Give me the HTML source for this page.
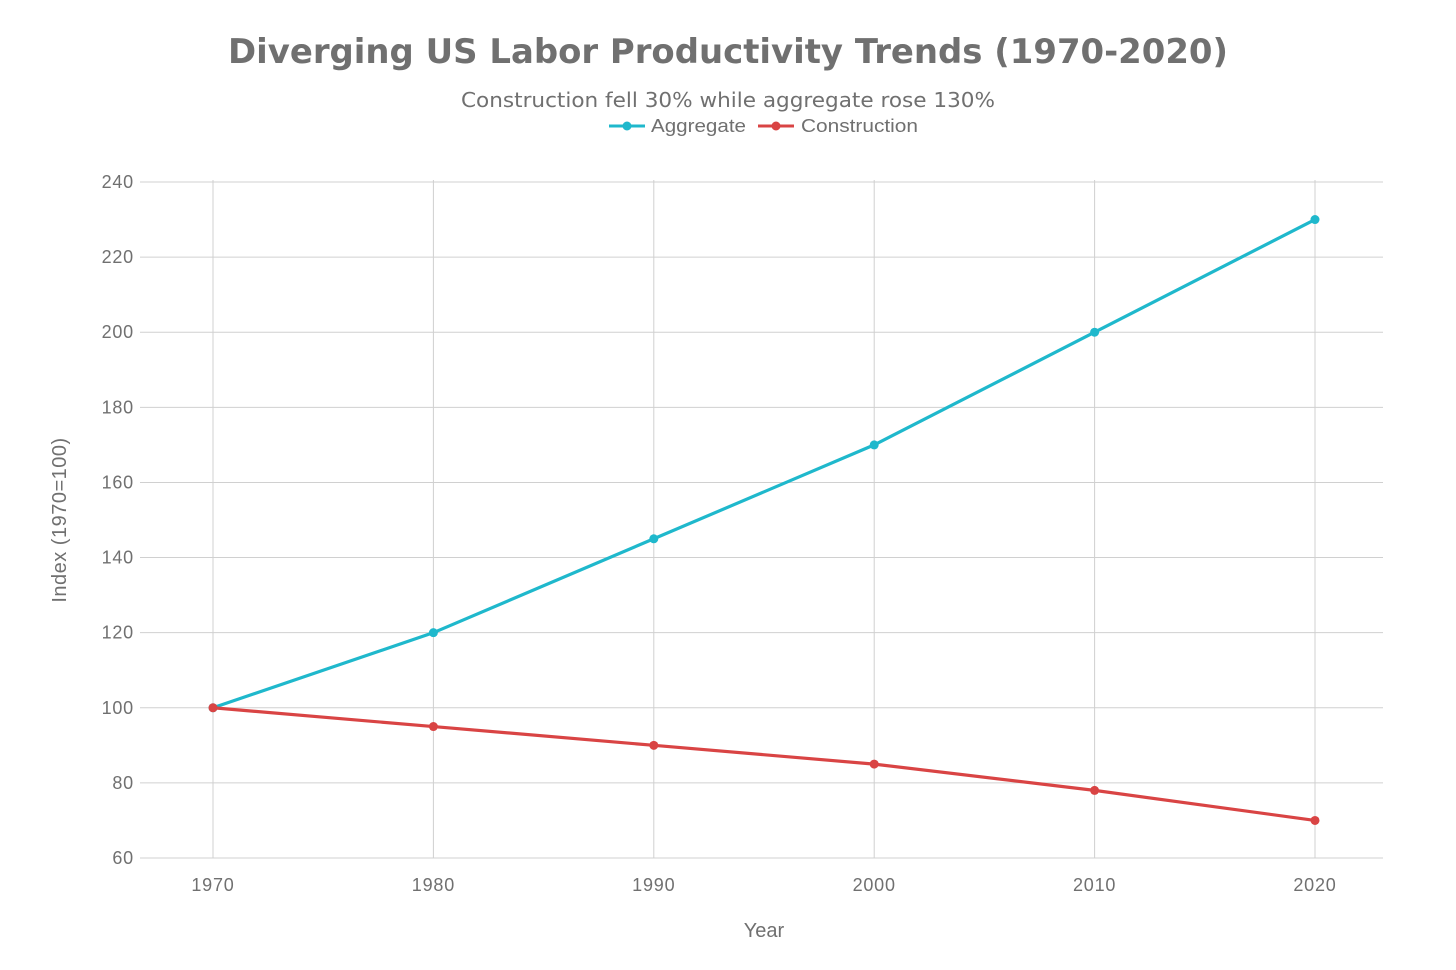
<!DOCTYPE html>
<html><head><meta charset="utf-8"><style>
body{margin:0;background:#fff;}
svg{display:block;font-family:"Liberation Sans",sans-serif;}
</style></head><body>
<svg id="chart" width="1456" height="970">
<text x="728" y="63" text-anchor="middle" font-size="34" font-weight="bold" fill="#707070" style="font-family:'DejaVu Sans',sans-serif" textLength="1000" lengthAdjust="spacingAndGlyphs">Diverging US Labor Productivity Trends (1970-2020)</text>
<text x="728" y="107" text-anchor="middle" font-size="20" fill="#707070" style="font-family:'DejaVu Sans',sans-serif" textLength="534" lengthAdjust="spacingAndGlyphs">Construction fell 30% while aggregate rose 130%</text>
<g>
<g>
<line x1="609" y1="126" x2="645" y2="126" stroke="#1fb8cc" stroke-width="3"/><circle cx="627" cy="126" r="4.5" fill="#1fb8cc"/>
<text x="651" y="132" font-size="18" fill="#707070" textLength="95" lengthAdjust="spacingAndGlyphs">Aggregate</text></g>
<g>
<line x1="758" y1="126" x2="794" y2="126" stroke="#d94444" stroke-width="3"/><circle cx="776" cy="126" r="4.5" fill="#d94444"/>
<text x="801" y="132" font-size="18" fill="#707070" textLength="117" lengthAdjust="spacingAndGlyphs">Construction</text></g>
</g>
<g id="grid"></g><g id="axes"></g><g id="series"></g>
<text x="764" y="937" text-anchor="middle" font-size="20" fill="#707070">Year</text>
<text transform="translate(66,520) rotate(-90)" text-anchor="middle" font-size="20" fill="#707070" letter-spacing="0.5">Index (1970=100)</text>
</svg>
<script>
const years=[1970,1980,1990,2000,2010,2020];
const aggregate=[100,120,145,170,200,230];
const construction=[100,95,90,85,78,70];
const yTicks=[60,80,100,120,140,160,180,200,220,240];
const xTicks=[1970,1980,1990,2000,2010,2020];
const L=140,R=1383,T=182,B=858;
const x=v=>213+(v-1970)*(1315-213)/50;
const y=v=>B-(v-60)*(B-T)/180;
const NS="http://www.w3.org/2000/svg";
function mk(tag,attrs,parent){const e=document.createElementNS(NS,tag);for(const k in attrs)e.setAttribute(k,attrs[k]);parent.appendChild(e);return e;}
const grid=document.getElementById('grid'),axes=document.getElementById('axes'),series=document.getElementById('series');
yTicks.forEach(t=>{
 const l=mk('line',{x1:L,x2:R,y1:y(t),y2:y(t),stroke:'#d0d0d0','stroke-width':1},grid);
 
 
 const tx=mk('text',{x:L-6,y:y(t)+6,'text-anchor':'end','font-size':18,'letter-spacing':0.8,fill:'#707070'},axes);
 tx.textContent=t;
 
 
});
xTicks.forEach(t=>{
 const l=mk('line',{x1:x(t),x2:x(t),y1:T-2,y2:B,stroke:'#d0d0d0','stroke-width':1},grid);
 
 
 const tx=mk('text',{x:x(t),y:891,'text-anchor':'middle','font-size':18,'letter-spacing':0.8,fill:'#707070'},axes);
 tx.textContent=t;
 
 
});
function draw(vals,color,name){
 const p=mk('polyline',{points:years.map((yr,i)=>x(yr)+','+y(vals[i])).join(' '),fill:'none',stroke:color,'stroke-width':3.2},series);
 
 
 years.forEach((yr,i)=>{
  const c=mk('circle',{cx:x(yr),cy:y(vals[i]),r:4.5,fill:color},series);
  
  
 });
}
draw(aggregate,'#1fb8cc','aggregate');
draw(construction,'#d94444','construction');
</script>
</body></html>
